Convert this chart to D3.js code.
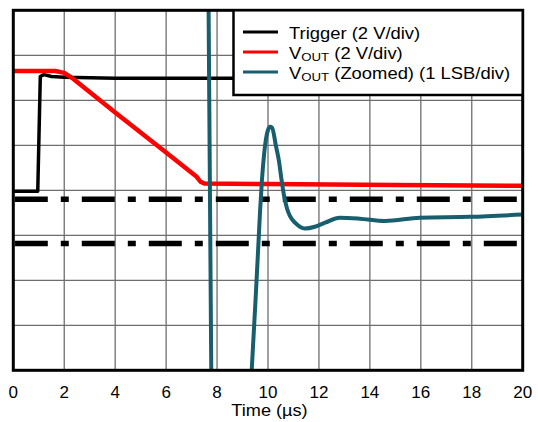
<!DOCTYPE html>
<html><head><meta charset="utf-8">
<script src="https://cdn.jsdelivr.net/npm/d3@7"></script>
<style>body{margin:0;background:#fff}svg{display:block}</style>
</head><body>
<script>
// x ticks (µs)
const xTicks = [0,2,4,6,8,10,12,14,16,18,20];
// y axis in divisions (0..8), no labels
const yDivs = [0,1,2,3,4,5,6,7,8];

// Trigger (divisions)
const trigT = [0, 0.96, 1.06, 1.2, 1.5, 2.0, 4.0, 8.5, 20];
const trigV = [3.98, 3.98, 6.53, 6.57, 6.53, 6.51, 6.49, 6.49, 6.49];

// VOUT (2 V/div)
const voutT = [0, 1.65, 2.0, 2.3, 4.0, 6.0, 7.2, 7.35, 7.5, 10, 15, 20];
const voutV = [6.65, 6.65, 6.61, 6.5, 5.73, 4.84, 4.3, 4.19, 4.15, 4.14, 4.12, 4.1];

// VOUT zoomed (1 LSB/div)
const zoomT = [7.66, 7.78, 8.5, 9.36, 9.53, 9.63, 9.69, 9.76, 9.84, 9.92, 10.0, 10.08, 10.16, 10.31, 10.43, 10.51, 10.63, 10.75, 10.86, 11.06, 11.25, 11.45, 11.84, 12.24, 12.82, 13.6, 14.59, 15.96, 17.92, 20];
const zoomV = [8.6, -0.6, -4, 0, 1.77, 2.88, 3.55, 4.21, 4.76, 5.14, 5.34, 5.41, 5.39, 4.99, 4.65, 4.32, 3.88, 3.59, 3.43, 3.28, 3.19, 3.15, 3.19, 3.28, 3.39, 3.37, 3.32, 3.39, 3.41, 3.46];

// error band limits (divisions)
const bandLevels = [3.80, 2.82];

const legendLabels = [
  {main:"Trigger (2 V/div)", sub:null},
  {main:"V", sub:"OUT", rest:" (2 V/div)"},
  {main:"V", sub:"OUT", rest:" (Zoomed) (1 LSB/div)"}
];
const colors = ["#000000", "#ff0000", "#175e6e"];

const W = 538, H = 422;
const L = 13.3, R = 522.7, T = 10.3, B = 370.3;
const svg = d3.select("body").append("svg").attr("width", W).attr("height", H)
  .style("font-family", "Arial, 'Liberation Sans', sans-serif");

const x = d3.scaleLinear().domain([0,20]).range([L,R]);
const y = d3.scaleLinear().domain([0,8]).range([B,T]);

svg.append("defs").append("clipPath").attr("id","clip")
  .append("rect").attr("x",L).attr("y",T).attr("width",R-L).attr("height",B-T);

// grid
const grid = svg.append("g").attr("stroke","#6e6e6e").attr("stroke-width",1.3);
xTicks.forEach(t => grid.append("line").attr("x1",x(t)).attr("x2",x(t)).attr("y1",T).attr("y2",B));
yDivs.forEach(d => grid.append("line").attr("x1",L).attr("x2",R).attr("y1",y(d)).attr("y2",y(d)));

const plot = svg.append("g").attr("clip-path","url(#clip)");

// dash-dot bands
bandLevels.forEach(v => plot.append("line")
  .attr("x1", L+1.5).attr("x2", R).attr("y1", y(v)).attr("y2", y(v))
  .attr("stroke","#000").attr("stroke-width",5.5)
  .attr("stroke-dasharray","33,13,8,13"));

const line = d3.line().x(d => x(d[0])).y(d => y(d[1]));
const zip = (a,b) => a.map((v,i)=>[v,b[i]]);

plot.append("path").datum(zip(trigT,trigV)).attr("d",line)
  .attr("fill","none").attr("stroke",colors[0]).attr("stroke-width",3.5).attr("stroke-linejoin","round");
plot.append("path").datum(zip(voutT,voutV)).attr("d",line)
  .attr("fill","none").attr("stroke",colors[1]).attr("stroke-width",4.5).attr("stroke-linejoin","round");
plot.append("path").datum(zip(zoomT,zoomV)).attr("d",d3.line().x(d=>x(d[0])).y(d=>y(d[1])).curve(d3.curveMonotoneX))
  .attr("fill","none").attr("stroke",colors[2]).attr("stroke-width",4).attr("stroke-linejoin","round");

// frame
svg.append("rect").attr("x",L).attr("y",T).attr("width",R-L).attr("height",B-T)
  .attr("fill","none").attr("stroke","#000").attr("stroke-width",3);

// legend
const lg = svg.append("g");
lg.append("rect").attr("x",233.5).attr("y",T).attr("width",R-233.5).attr("height",95-T)
  .attr("fill","#fff").attr("stroke","#000").attr("stroke-width",2.5);
legendLabels.forEach((lab,i) => {
  const yy = 32 + i*20;
  lg.append("line").attr("x1",243).attr("x2",278).attr("y1",yy).attr("y2",yy)
    .attr("stroke",colors[i]).attr("stroke-width",3);
  const tx = lg.append("text").attr("transform",`translate(289,${yy+7.4}) scale(1.15,1)`)
    .attr("font-size",16).attr("fill","#000");
  tx.append("tspan").text(lab.main);
  if (lab.sub) {
    tx.append("tspan").attr("font-size",11.5).attr("dy",1.5).text(lab.sub);
    tx.append("tspan").attr("dy",-1.5).text(lab.rest);
  }
});

// x tick labels
svg.append("g").selectAll("text").data(xTicks).join("text")
  .attr("x", d => x(d)).attr("y", 398).attr("text-anchor","middle")
  .attr("font-size",17).attr("fill","#000").text(d => d);

svg.append("text").attr("transform", `translate(${(L+R)/2 + 1.5},415.5) scale(1.1,1)`)
  .attr("text-anchor","middle")
  .attr("font-size",16.5).attr("fill","#000").text("Time (µs)");
</script>
</body></html>
